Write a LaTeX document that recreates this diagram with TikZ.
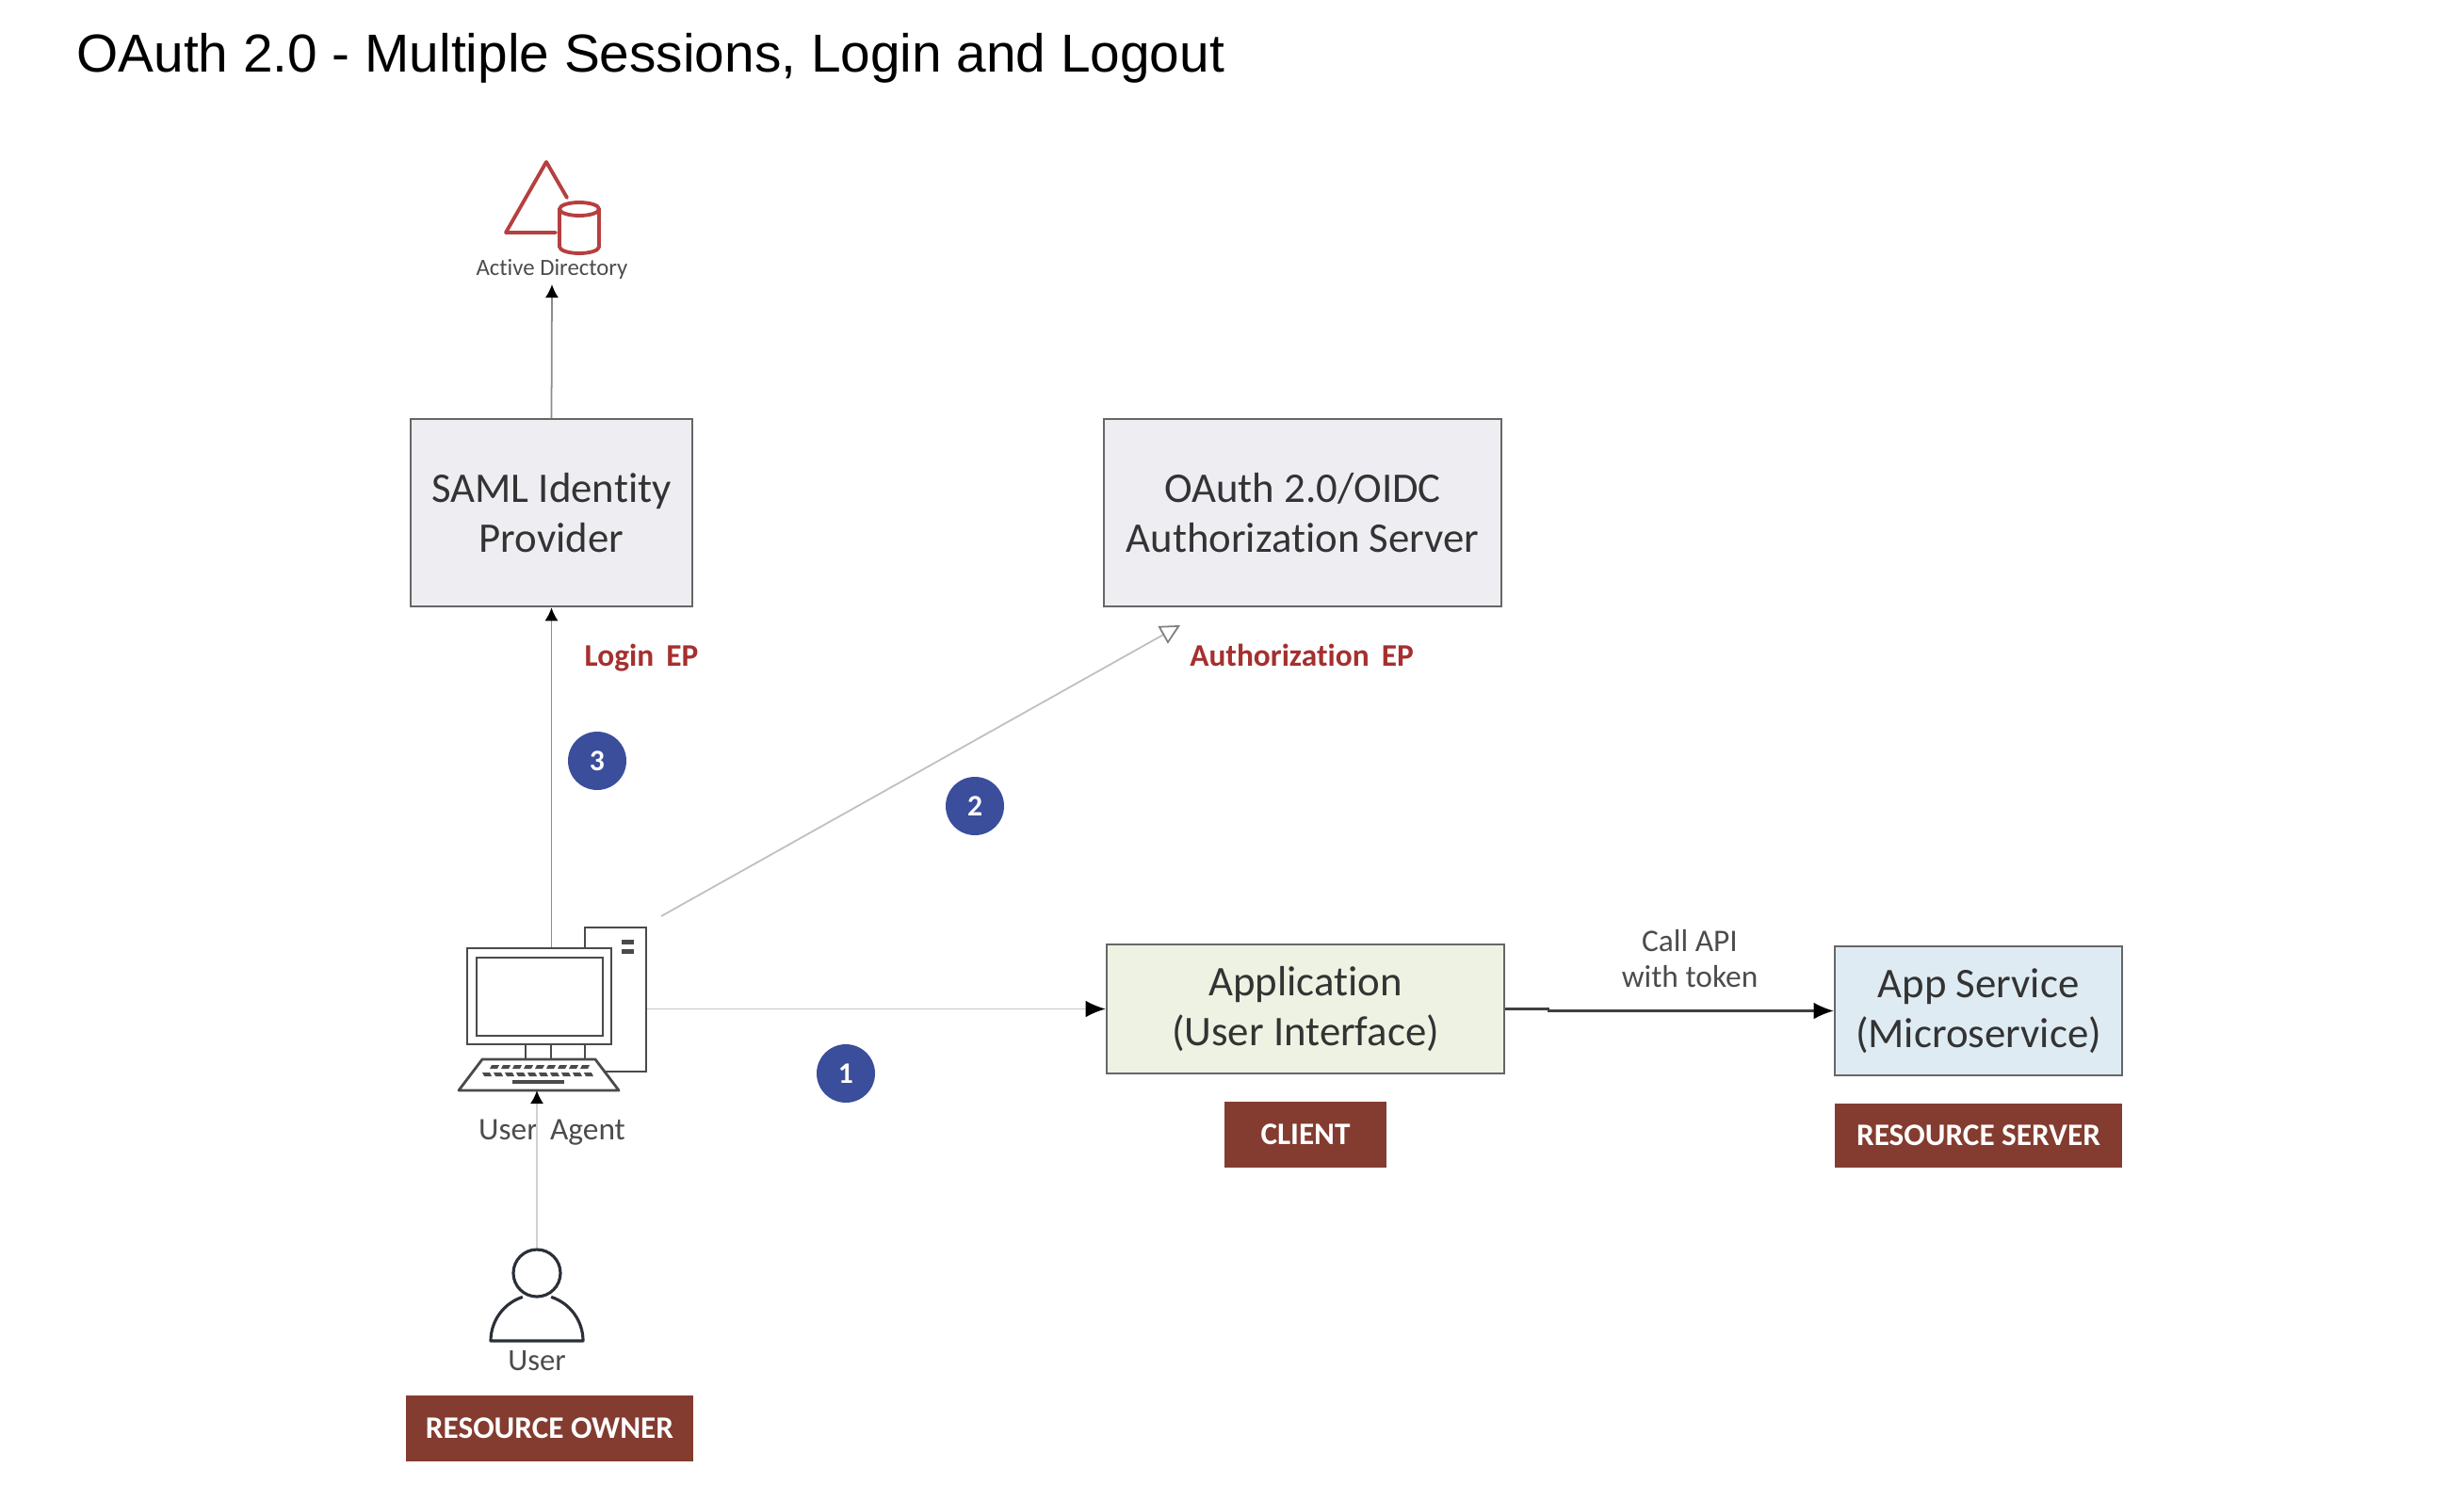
\documentclass[tikz,border=0pt]{standalone}
\usepackage{fontspec}
\setmainfont[Ligatures=NoCommon]{Carlito}
\newfontfamily\titlefont{Liberation Sans}
\usetikzlibrary{arrows.meta,calc}

\definecolor{boxgray}{HTML}{EEEDF1}
\definecolor{boxgreen}{HTML}{EDF2E2}
\definecolor{boxblue}{HTML}{DEEBF3}
\definecolor{badgered}{HTML}{843C30}
\definecolor{epred}{HTML}{A5302F}
\definecolor{adred}{HTML}{B5403F}
\definecolor{stepblue}{HTML}{3A4E9C}
\definecolor{icongray}{HTML}{4A4A4A}
\definecolor{usernavy}{HTML}{2B3038}

\tikzset{
    server/.style={draw=black!60, line width=0.7pt, inner sep=0pt, align=center, text=black!80, font=\fontsize{12.75}{15.2}\selectfont},
    badge/.style={fill=badgered, inner sep=0pt, text=white, font=\fontsize{9.45}{12}\selectfont\bfseries},
    stepdot/.style={circle, fill=stepblue, minimum size=0.62cm, inner sep=0pt, text=white, font=\fontsize{9}{10}\selectfont\bfseries},
    eplabel/.style={text=epred, font=\fontsize{9.5}{11}\selectfont\bfseries},
    caption/.style={text=black!70, align=center},
    flow/.style={line width=0.5pt, -{Latex[black,length=4pt,width=4pt]}},
    flowbig/.style={line width=0.5pt, -{Latex[black,length=6pt,width=5pt]}},
    iconline/.style={draw=icongray, line width=0.8pt},
    adline/.style={draw=adred, line width=1.1pt},
}

\begin{document}
\begin{tikzpicture}

\useasboundingbox (0,0) rectangle (26.16,15.92);

\node[font=\titlefont\fontsize{16.16}{18}\selectfont, anchor=west] (title) at (0.69,15.30) {OAuth 2.0 - Multiple Sessions, Login and Logout};

% Active Directory icon
\draw[adline, line cap=round, line join=round] (6.02,13.82) -- (5.80,14.20) -- (5.37,13.45) -- (5.90,13.45);
\draw[adline] (6.15,13.70) ellipse (0.21 and 0.07);
\draw[adline] (5.94,13.70) -- (5.94,13.30) arc (180:360:0.21 and 0.07) -- (6.36,13.70);
\node[caption, font=\fontsize{7.05}{10}\selectfont] (adlabel) at (5.86,13.06) {Active Directory};
\coordinate (adbase) at (5.86,12.90);

% Servers
\node[server, fill=boxgray, minimum width=2.99cm, minimum height=1.99cm] (saml) at (5.855,10.475) {SAML Identity\\Provider};
\node[server, fill=boxgray, minimum width=4.22cm, minimum height=1.99cm] (authserver) at (13.83,10.475) {OAuth 2.0/OIDC\\Authorization Server};
\node[server, fill=boxgreen, minimum width=4.22cm, minimum height=1.37cm] (app) at (13.86,5.205) {Application\\(User Interface)};
\node[server, fill=boxblue, minimum width=3.05cm, minimum height=1.37cm] (service) at (21.005,5.185) {App Service\\(Microservice)};

\node[eplabel] (loginep) at (6.81,8.93) {Login\, EP};
\node[eplabel] (authep) at (13.82,8.96) {Authorization\, EP};

% Badges
\node[badge, minimum width=1.72cm, minimum height=0.70cm] (clientbadge) at (13.86,3.87) {CLIENT};
\node[badge, minimum width=3.05cm, minimum height=0.68cm] (serverbadge) at (21.005,3.86) {RESOURCE SERVER};
\node[badge, minimum width=3.05cm, minimum height=0.70cm] (ownerbadge) at (5.835,0.75) {RESOURCE OWNER};

% Computer
\node[iconline, fill=white, minimum width=0.65cm, minimum height=1.53cm, inner sep=0pt] (tower) at (6.535,5.305) {};
\foreach \y in {5.92,5.82} {
    \fill[icongray] (6.60,\y-0.025) rectangle (6.73,\y+0.025);
}
\foreach \x in {5.58,5.85} {
    \draw[iconline] (\x,4.83) -- (\x,4.67);
}
\draw[iconline, fill=white, line join=round] (5.12,4.67) -- (6.32,4.67) -- (6.57,4.34) -- (4.87,4.34) -- cycle;
\foreach \i in {0,...,8} {
    \fill[icongray] ($(5.20,4.57)+(\i*0.12,0)$) -- ++(0.08,0) -- ++(0.02,0.04) -- ++(-0.08,0) -- cycle;
}
\foreach \i in {0,...,9} {
    \fill[icongray] ($(5.14,4.49)+(\i*0.12,0)$) -- ++(0.08,0) -- ++(-0.02,0.04) -- ++(-0.08,0) -- cycle;
}
\fill[icongray] (5.44,4.41) rectangle (5.99,4.45);
\node[iconline, fill=white, minimum width=1.53cm, minimum height=1.02cm, inner sep=0pt] (monitor) at (5.725,5.34) {};
\node[iconline, minimum width=1.34cm, minimum height=0.83cm, inner sep=0pt] (screen) at (5.73,5.335) {};
\node[caption, font=\fontsize{9.5}{11}\selectfont] (agentlabel) at (5.86,3.89) {User\, Agent};
\coordinate (agentbase) at (5.70,4.34);
\coordinate (authtail) at (7.02,6.19);
\coordinate (authtip) at (12.53,9.28);

% User
\node[draw=usernavy, line width=0.9pt, circle, minimum size=0.50cm, inner sep=0pt] (userhead) at (5.70,2.40) {};
\draw[draw=usernavy, line width=0.9pt, line join=round] (5.70,1.68) ++(108:0.49) arc (108:180:0.49) -- ++(0.98,0) arc (0:72:0.49);
\node[caption, font=\fontsize{9.3}{11}\selectfont] (userlabel) at (5.70,1.47) {User};

% Connectors
\draw[flow, draw=black!45] (saml.north) -- (adbase);
\draw[flow, draw=black!45] (saml.south |- monitor.north) -- (saml.south);
\draw[flow, draw=black!18] (userhead.north) -- (agentbase);
\draw[flowbig, draw=black!22] (tower.east |- app.west) -- (app.west);
\draw[line width=0.5pt, draw=black!25, -{Triangle[open,length=6pt,width=6pt,fill=white,black!50]}] (authtail) -- (authtip);
\coordinate (kink) at (16.44,5.205);
\draw[flowbig, draw=black!75, line width=0.6pt] (app.east) -- (kink) -- (kink |- service.west) -- (service.west);
\node[caption, font=\fontsize{9.5}{11}\selectfont] (calllabel) at (17.94,5.74) {Call API\\with token};

% Steps
\foreach \name/\num/\x/\y in {stepone/1/8.98/4.52, steptwo/2/10.35/7.36, stepthree/3/6.34/7.84} {
    \node[stepdot] (\name) at (\x,\y) {\num};
}

\end{tikzpicture}
\end{document}
